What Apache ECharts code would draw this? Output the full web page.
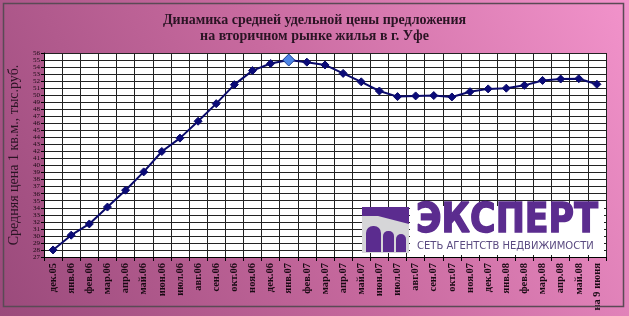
<!DOCTYPE html>
<html><head><meta charset="utf-8">
<script src="https://cdn.jsdelivr.net/npm/echarts@6/dist/echarts.min.js"></script>
<style>html,body{margin:0;padding:0;background:#fff}#c{width:629px;height:316px}</style>
</head><body><div id="c"></div>
<script>
var categories = ['дек.05','янв.06','фев.06','мар.06','апр.06','май.06','июн.06','июл.06','авг.06','сен.06','окт.06','ноя.06','дек.06','янв.07','фев.07','мар.07','апр.07','май.07','июн.07','июл.07','авг.07','сен.07','окт.07','ноя.07','дек.07','янв.08','фев.08','мар.08','апр.08','май.08','на 9 июня'];
var prices = [28.0,30.1,31.7,34.1,36.5,39.1,42.0,43.9,46.3,48.8,51.5,53.5,54.5,55.0,54.7,54.3,53.1,51.9,50.6,49.8,49.9,49.95,49.75,50.5,50.9,51.0,51.4,52.1,52.3,52.35,51.55];
var highlightIndex = 13;
var yMin = 27, yMax = 56;
var titleLines = ['Динамика средней удельной цены предложения','на вторичном рынке жилья в г. Уфе'];
var yTitle = 'Средняя цена 1 кв.м., тыс.руб.';

var chart = echarts.init(document.getElementById('c'), null, {renderer:'canvas'});
var data = prices.map(function(v,i){
  if(i===highlightIndex) return {value:v, symbolSize:12, itemStyle:{color:'#4d86e6', borderColor:'#1a3a90', borderWidth:1}};
  return v;
});
var P = '#5b2c8f';
chart.setOption({
  animation:false,
  backgroundColor:{type:'linear',x:0,y:1,x2:1,y2:0,colorStops:[{offset:0,color:'#9a4a7b'},{offset:0.5,color:'#c86a9f'},{offset:1,color:'#f293cb'}]},
  title:{text:titleLines.join('\n'),left:'center',top:7,textStyle:{fontFamily:'Liberation Serif',fontWeight:'bold',fontSize:14,color:'#2a1424',lineHeight:16}},
  grid:{left:44,right:23,top:53,bottom:59,show:true,backgroundColor:'#ffffff',borderWidth:0,containLabel:false,outerBoundsMode:'none'},
  xAxis:{type:'category',data:categories,boundaryGap:true,
    axisLine:{lineStyle:{color:'#000',width:1}},
    axisTick:{show:true,alignWithLabel:false,length:4,lineStyle:{color:'#000'}},
    axisLabel:{interval:0,rotate:90,fontFamily:'Liberation Serif',fontWeight:'bold',fontSize:10.5,color:'#1a0a14',margin:6},
    splitLine:{show:true,interval:0,lineStyle:{color:'#222',width:1}}},
  yAxis:{type:'value',min:yMin,max:yMax,interval:1,
    name:yTitle,nameLocation:'middle',nameGap:23,nameRotate:90,
    nameTextStyle:{fontFamily:'Liberation Serif',fontSize:14,color:'#2a1424'},
    axisLine:{show:true,lineStyle:{color:'#000'}},
    axisTick:{show:true,length:3,lineStyle:{color:'#000'}},
    axisLabel:{fontFamily:'Liberation Serif',fontSize:7,color:'#1a0a14',margin:4,lineHeight:6},
    splitLine:{show:true,lineStyle:{color:'#222',width:1}}},
  series:[{type:'line',data:data,symbol:'diamond',symbolSize:8,
    lineStyle:{color:'#0a0a6a',width:2},itemStyle:{color:'#0a0a78',borderColor:'#0a0a6a'},z:5}],
  graphic:[
    {type:'rect',z:100,shape:{x:3.5,y:3.5,width:620,height:303},style:{fill:null,stroke:'#5a4a55',lineWidth:1.5},silent:true},
    {type:'rect',z:100,shape:{x:410,y:206,width:194,height:49},style:{fill:'#ffffff'}},
    {type:'rect',z:101,shape:{x:362,y:207,width:47,height:46},style:{fill:'#d6d6d8'}},
    {type:'polygon',z:102,shape:{points:[[362,207],[409,207],[409,224],[378,216],[362,216]]},style:{fill:P}},
    {type:'rect',z:102,shape:{x:366,y:226,width:15,height:26,r:[7,7,0,0]},style:{fill:P}},
    {type:'rect',z:102,shape:{x:383,y:231,width:11,height:21,r:[5,5,0,0]},style:{fill:P}},
    {type:'rect',z:102,shape:{x:396,y:234,width:10,height:18,r:[5,5,0,0]},style:{fill:P}},
    {type:'text',z:102,x:416,y:201,scaleX:0.85,style:{text:'ЭКСПЕРТ',fontFamily:'DejaVu Sans',fontWeight:'bold',fontSize:41,fill:P,stroke:P,lineWidth:1.5}},
    {type:'text',z:102,x:417,y:241,style:{text:'СЕТЬ АГЕНТСТВ НЕДВИЖИМОСТИ',fontFamily:'DejaVu Sans',fontSize:10,fill:'#5a4a80'}}
  ]
});
</script></body></html>
